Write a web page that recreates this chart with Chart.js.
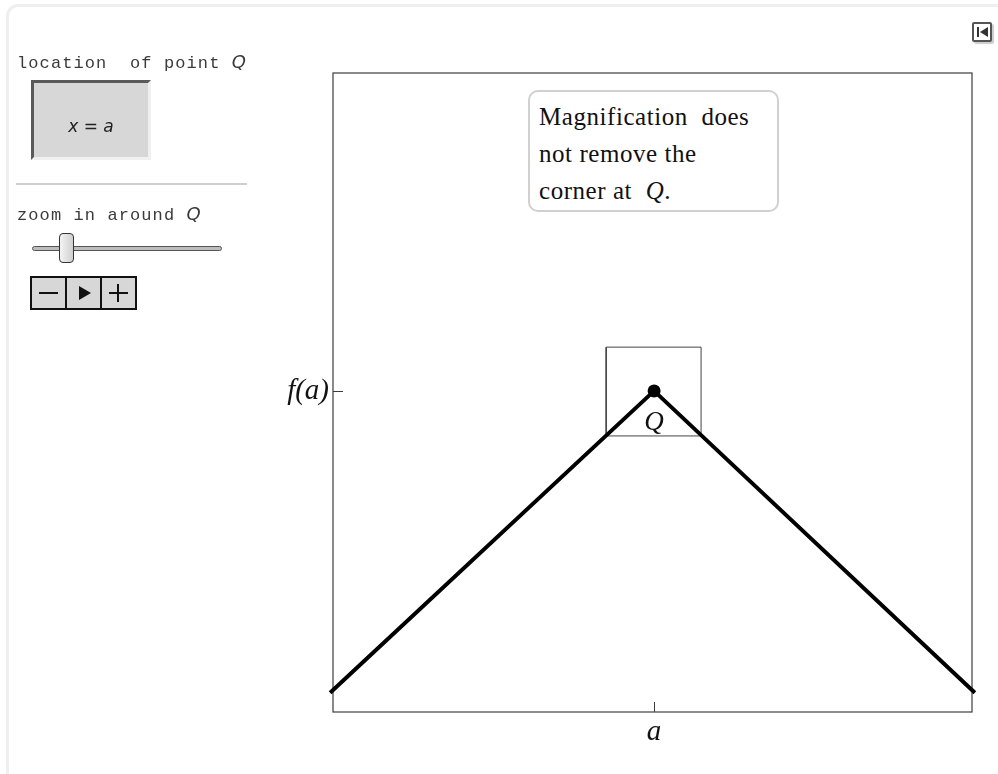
<!DOCTYPE html>
<html>
<head>
<meta charset="utf-8">
<script src="https://cdn.jsdelivr.net/npm/chart.js@4.4.1/dist/chart.umd.min.js"></script>
<style>
  html, body { margin:0; padding:0; background:#fff; width:998px; height:774px; overflow:hidden; }
  #wrap { position:relative; width:998px; height:774px; }
  #c { position:absolute; left:0; top:0; }
  .frame { position:absolute; left:6px; top:4px; width:1100px; height:900px; border:3px solid #efefef; border-radius:12px; box-sizing:border-box; }
  .mono { position:absolute; font-family:"Liberation Mono", "DejaVu Sans Mono", monospace; font-size:17px; color:#3a3a3a; letter-spacing:1.1px; white-space:pre; }
  .mono i { font-family:"DejaVu Sans", sans-serif; font-size:18px; letter-spacing:0; }
  .locbox { position:absolute; left:31px; top:80px; width:120px; height:80px; background:#d7d7d7; box-sizing:border-box;
            border-top:3px solid #5a5a5a; border-left:3px solid #5a5a5a; border-right:3px solid #f0f0f0; border-bottom:3px solid #f0f0f0; }
  .locbox span { position:absolute; left:0; right:0; top:33px; text-align:center; font-family:"DejaVu Sans", sans-serif; font-style:italic; font-size:17px; color:#222; }
  .sep { position:absolute; left:16px; top:183px; width:231px; height:2px; background:#cfcfcf; }
  .track { position:absolute; left:32px; top:246px; width:190px; height:5px; background:#bdbdbd; border:1px solid #555; border-radius:3px; box-sizing:border-box; }
  .thumb { position:absolute; left:59px; top:233px; width:15px; height:30px; border:1px solid #333; border-radius:4px; box-sizing:border-box;
           background:linear-gradient(to right,#f4f4f4,#cfcfcf); }
  .btns { position:absolute; left:30px; top:276px; height:34px; display:flex; }
  .btn { width:37px; height:34px; border:2px solid #111; margin-left:-2px; background:#d7d7d7; box-sizing:border-box; position:relative; }
  .btn:first-child { margin-left:0; }
  .minus { position:absolute; left:7px; right:7px; top:14px; height:2px; background:#111; }
  .plusH { position:absolute; left:7px; right:7px; top:14px; height:2px; background:#111; }
  .plusV { position:absolute; top:6px; bottom:6px; left:15px; width:2px; background:#111; }
  .play { position:absolute; left:12px; top:8px; width:0; height:0; border-top:7px solid transparent; border-bottom:7px solid transparent; border-left:12px solid #111; }
  .note { position:absolute; left:528px; top:90px; width:251px; height:122px; border:2px solid #d0d0d0; border-radius:10px; box-sizing:border-box; background:#fff;
          font-family:"Liberation Serif", serif; font-size:25px; letter-spacing:0.55px; color:#111; padding:6px 0 0 9px; line-height:37px; white-space:pre; }
  .icon { position:absolute; left:972px; top:22px; width:20px; height:20px; border:2px solid #555; border-radius:2px; box-sizing:border-box; background:#fff; box-shadow:2px 2px 1px #ccc; }
  .icon .bar { position:absolute; left:3px; top:3px; width:2px; height:10px; background:#333; }
  .icon .tri { position:absolute; left:6px; top:3px; width:0; height:0; border-top:5px solid transparent; border-bottom:5px solid transparent; border-right:8px solid #333; }
</style>
</head>
<body>
<div id="wrap">
  <canvas id="c" width="998" height="774"></canvas>
  <div class="frame"></div>
  <div class="mono" style="left:17px; top:51px;">location  of point <i>Q</i></div>
  <div class="locbox"><span>x = a</span></div>
  <div class="sep"></div>
  <div class="mono" style="left:17px; top:203px;">zoom in around <i>Q</i></div>
  <div class="track"></div>
  <div class="thumb"></div>
  <div class="btns">
    <div class="btn"><div class="minus"></div></div>
    <div class="btn"><div class="play"></div></div>
    <div class="btn"><div class="plusH"></div><div class="plusV"></div></div>
  </div>
  <div class="note">Magnification  does
not remove the
corner at  <i>Q</i>.</div>
  <div class="icon"><div class="bar"></div><div class="tri"></div></div>
</div>
<script>
// ---- data ----
const lineX = [-1.014, 0, 1.004];
const lineY = [-0.945, 0, -0.945];
const pointQX = [0];
const pointQY = [0];
const pointLabels = ['Q'];
const boxX = [-0.15, 0.147];
const boxY = [-0.141, 0.137];
const xTickValues = [0];
const xTickLabels = ['a'];
const yTickValues = [0];
const yTickLabels = ['f(a)'];

const serifItalic = { family: 'Liberation Serif', style: 'italic', size: 29 };

const framePlugin = {
  id: 'frame',
  beforeDatasetsDraw(chart) {
    const { ctx, chartArea: a, scales } = chart;
    ctx.save();
    ctx.strokeStyle = '#3c3c3c';
    ctx.lineWidth = 1.2;
    ctx.strokeRect(a.left, a.top, a.right - a.left, a.bottom - a.top);
    ctx.beginPath();
    xTickValues.forEach(v => {
      const px = Math.round(scales.x.getPixelForValue(v)) + 0.5;
      ctx.moveTo(px, a.bottom); ctx.lineTo(px, a.bottom - 10);
    });
    yTickValues.forEach(v => {
      const py = Math.round(scales.y.getPixelForValue(v)) + 0.5;
      ctx.moveTo(a.left, py); ctx.lineTo(a.left + 10, py);
    });
    ctx.lineWidth = 1;
    ctx.stroke();
    ctx.restore();
  },
  afterDatasetsDraw(chart) {
    const { ctx, scales } = chart;
    ctx.save();
    ctx.font = 'italic 27px "Liberation Serif"';
    ctx.fillStyle = '#111';
    ctx.textAlign = 'center';
    ctx.textBaseline = 'alphabetic';
    pointLabels.forEach((t, i) => {
      const px = scales.x.getPixelForValue(pointQX[i]);
      const py = scales.y.getPixelForValue(pointQY[i]);
      ctx.fillText(t, px, py + 39);
    });
    ctx.restore();
  }
};

new Chart(document.getElementById('c'), {
  type: 'scatter',
  data: {
    datasets: [
      {
        data: pointQX.map((x, i) => ({ x, y: pointQY[i] })),
        pointRadius: 6.5, pointBackgroundColor: '#000', pointBorderColor: '#000', pointBorderWidth: 0, showLine: false
      },
      {
        data: lineX.map((x, i) => ({ x, y: lineY[i] })),
        showLine: true, borderColor: '#000', borderWidth: 4, pointRadius: 0, clip: false, borderJoinStyle: 'miter'
      },
      {
        data: [
          { x: boxX[0], y: boxY[0] }, { x: boxX[1], y: boxY[0] },
          { x: boxX[1], y: boxY[1] }, { x: boxX[0], y: boxY[1] }, { x: boxX[0], y: boxY[0] }
        ],
        showLine: true, borderColor: '#444', borderWidth: 1, pointRadius: 0
      }
    ]
  },
  options: {
    responsive: false,
    animation: false,
    events: [],
    layout: { padding: { left: 0, top: 73, right: 26, bottom: 0 } },
    plugins: { legend: { display: false }, tooltip: { enabled: false } },
    scales: {
      x: {
        type: 'linear', min: -1.005, max: 0.995,
        grid: { display: false, drawTicks: false, tickLength: 0 },
        border: { display: false },
        afterBuildTicks: s => { s.ticks = xTickValues.map(v => ({ value: v })); },
        afterFit: s => { s.height = 62; },
        ticks: {
          autoSkip: false, maxRotation: 0, padding: 3, color: '#111', font: serifItalic,
          callback: v => xTickLabels[xTickValues.indexOf(v)]
        }
      },
      y: {
        type: 'linear', min: -1.005, max: 0.995,
        grid: { display: false, drawTicks: false, tickLength: 0 },
        border: { display: false },
        afterBuildTicks: s => { s.ticks = yTickValues.map(v => ({ value: v })); },
        afterFit: s => { s.width = 333; },
        ticks: {
          autoSkip: false, padding: 4, color: '#111', font: serifItalic,
          callback: v => yTickLabels[yTickValues.indexOf(v)]
        }
      }
    }
  },
  plugins: [framePlugin]
});
</script>
</body>
</html>
